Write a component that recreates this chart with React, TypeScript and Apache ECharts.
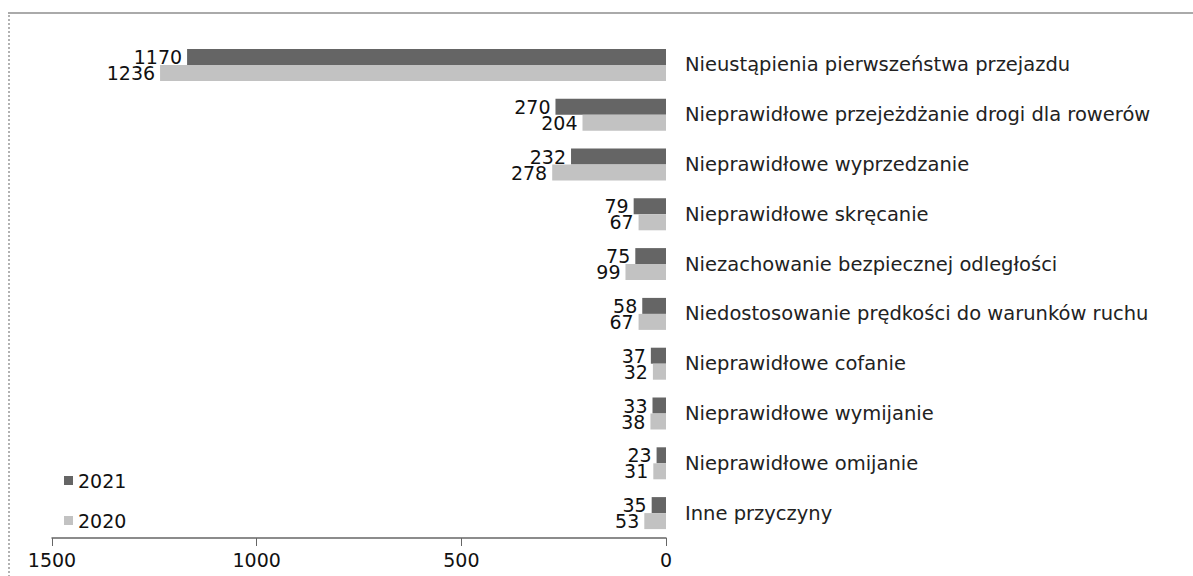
import React, { useEffect, useRef } from "react";
import * as echarts from "echarts";

const categories = [
  "Nieustąpienia pierwszeństwa przejazdu",
  "Nieprawidłowe przejeżdżanie drogi dla rowerów",
  "Nieprawidłowe wyprzedzanie",
  "Nieprawidłowe skręcanie",
  "Niezachowanie bezpiecznej odległości",
  "Niedostosowanie prędkości do warunków ruchu",
  "Nieprawidłowe cofanie",
  "Nieprawidłowe wymijanie",
  "Nieprawidłowe omijanie",
  "Inne przyczyny",
];
const values2021 = [1170, 270, 232, 79, 75, 58, 37, 33, 23, 35];
const values2020 = [1236, 204, 278, 67, 99, 67, 32, 38, 31, 53];
const seriesNames = ["2021", "2020"];

export default function App() {
  const ref = useRef<HTMLDivElement>(null);
  useEffect(() => {
    if (!ref.current) return;
    const chart = echarts.init(ref.current, null, { renderer: "svg" });
    const font = "'DejaVu Sans', Verdana, sans-serif";
    const labelStyle = {
      show: true,
      position: "left" as const,
      distance: 5,
      fontSize: 19,
      lineHeight: 15,
      fontFamily: font,
      color: "#111",
    };
    chart.setOption({
      animation: false,
      backgroundColor: "#fff",
      textStyle: { fontFamily: font },
      grid: { left: 52, right: 527, top: 40, bottom: 38 },
      legend: {
        data: seriesNames,
        orient: "vertical",
        left: 59,
        top: 466,
        itemWidth: 9,
        itemHeight: 9,
        itemGap: 21,
        icon: "rect",
        textStyle: { fontSize: 19, fontFamily: font, color: "#111" },
      },
      xAxis: {
        type: "value",
        inverse: true,
        min: 0,
        max: 1500,
        interval: 500,
        splitLine: { show: false },
        axisLine: { show: true, lineStyle: { color: "#666", width: 1.5 } },
        axisTick: { show: true, inside: false, length: 8, lineStyle: { color: "#666" } },
        axisLabel: {
          fontSize: 19,
          fontFamily: font,
          color: "#111",
          margin: 12,
          formatter: (v: number) => String(v),
        },
      },
      yAxis: {
        type: "category",
        data: categories,
        inverse: true,
        position: "right",
        axisLine: { show: false },
        axisTick: { show: false },
        axisLabel: { fontSize: 19.5, fontFamily: font, color: "#222", margin: 19 },
      },
      series: [
        {
          name: seriesNames[0],
          type: "bar",
          data: values2021,
          barWidth: 16,
          barGap: "0%",
          itemStyle: { color: "#656565" },
          label: labelStyle,
        },
        {
          name: seriesNames[1],
          type: "bar",
          data: values2020,
          barWidth: 16,
          barGap: "0%",
          itemStyle: { color: "#c2c2c2" },
          label: labelStyle,
        },
      ],
      graphic: [
        { type: "line", shape: { x1: 8, y1: 13, x2: 1193, y2: 13 }, style: { stroke: "#aaa", lineWidth: 2 } },
        { type: "line", shape: { x1: 9, y1: 15, x2: 9, y2: 576 }, style: { stroke: "#999", lineWidth: 1.5, lineDash: [2, 2] } },
      ],
    });
    return () => chart.dispose();
  }, []);
  return <div ref={ref} style={{ width: 1193, height: 576, position: "absolute", left: 0, top: 0 }} />;
}
